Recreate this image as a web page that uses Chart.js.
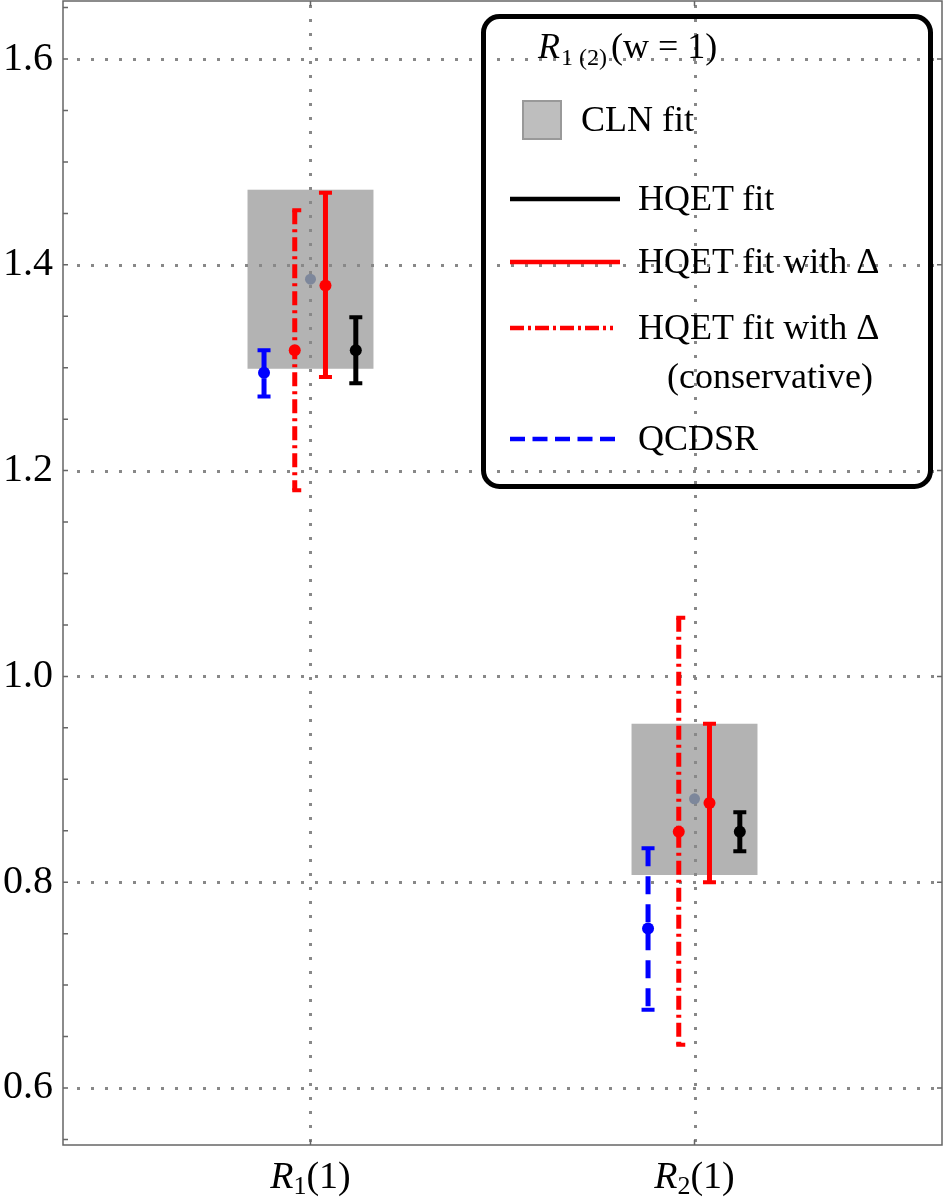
<!DOCTYPE html>
<html>
<head>
<meta charset="utf-8">
<script src="https://cdn.jsdelivr.net/npm/chart.js@4.4.0/dist/chart.umd.min.js"></script>
<style>
html, body { margin: 0; padding: 0; background: #fff; }
#wrap { position: relative; width: 944px; height: 1200px; }
#legend { position: absolute; left: 0; top: 0; pointer-events: none; }
</style>
</head>
<body>
<div id="wrap">
  <canvas id="ratios"></canvas>
  <svg id="legend" width="944" height="1200" xmlns="http://www.w3.org/2000/svg" font-family="'Liberation Serif', serif" font-size="36">
    <rect x="483.5" y="16.5" width="447" height="470" rx="16" ry="16" fill="none" stroke="#000" stroke-width="5"/>
    <text x="538" y="58"><tspan font-style="italic">R</tspan><tspan font-size="24" dy="7" dx="1">1 (2)</tspan><tspan dy="-7" dx="4">(w = 1)</tspan></text>
    <rect x="523" y="101" width="38" height="38" fill="#bebebe" stroke="#999" stroke-width="2"/>
    <text x="581" y="131">CLN fit</text>
    <line x1="510" y1="199" x2="620" y2="199" stroke="#000" stroke-width="4.5"/>
    <text x="638" y="210">HQET fit</text>
    <line x1="510" y1="262" x2="620" y2="262" stroke="#f00" stroke-width="4.5"/>
    <text x="638" y="273">HQET fit with Δ</text>
    <line x1="510" y1="328" x2="613" y2="328" stroke="#f00" stroke-width="4.5" stroke-dasharray="14 4 3 4"/>
    <text x="638" y="339">HQET fit with Δ</text>
    <text x="667" y="388">(conservative)</text>
    <line x1="510" y1="439" x2="615" y2="439" stroke="#00f" stroke-width="4.5" stroke-dasharray="15 7.5"/>
    <text x="638" y="450">QCDSR</text>
  </svg>
</div>
<script>
var categories = ['R1(1)', 'R2(1)'];
var yMajor = [0.6, 0.8, 1.0, 1.2, 1.4, 1.6];

// CLN fit: grey band and its centre
var clnCenter = [1.386, 0.881];
var clnLow    = [1.299, 0.807];
var clnHigh   = [1.473, 0.954];
// HQET fit
var hqetCenter = [1.317, 0.849];
var hqetLow    = [1.285, 0.830];
var hqetHigh   = [1.349, 0.868];
// HQET fit with Delta
var deltaCenter = [1.380, 0.877];
var deltaLow    = [1.291, 0.800];
var deltaHigh   = [1.470, 0.954];
// HQET fit with Delta (conservative)
var consCenter = [1.317, 0.849];
var consLow    = [1.181, 0.642];
var consHigh   = [1.453, 1.057];
// QCDSR
var qcdCenter = [1.295, 0.755];
var qcdLow    = [1.272, 0.676];
var qcdHigh   = [1.317, 0.833];

var boxHalf = 0.164;

var series = [
  { center: qcdCenter,   low: qcdLow,   high: qcdHigh,   off: -0.121, color: '#0000ff', dash: [18, 10],      capL: 6.5, capR: 6.5 },
  { center: consCenter,  low: consLow,  high: consHigh,  off: -0.041, color: '#ff0000', dash: [14, 5, 3, 5], capL: 2.5, capR: 6.5 },
  { center: deltaCenter, low: deltaLow, high: deltaHigh, off: 0.039,  color: '#ff0000', dash: [],            capL: 6.5, capR: 6.5 },
  { center: hqetCenter,  low: hqetLow,  high: hqetHigh,  off: 0.118,  color: '#000000', dash: [],            capL: 6.5, capR: 6.5 }
];

function isMajor(v) { return Math.abs(v * 5 - Math.round(v * 5)) < 1e-6; }
function pts(center, off) {
  return center.map(function (v, i) { return { x: i + 1 + off, y: v }; });
}

var errorBars = {
  id: 'errorBars',
  beforeDatasetsDraw: function (chart) {
    var ctx = chart.ctx, xs = chart.scales.x, ys = chart.scales.y, a = chart.chartArea;
    ctx.save();
    // grey CLN boxes
    ctx.fillStyle = '#b3b3b3';
    categories.forEach(function (c, i) {
      var l = xs.getPixelForValue(i + 1 - boxHalf), r = xs.getPixelForValue(i + 1 + boxHalf);
      var t = ys.getPixelForValue(clnHigh[i]), b = ys.getPixelForValue(clnLow[i]);
      ctx.fillRect(l, t, r - l, b - t);
    });
    // dotted grid
    ctx.strokeStyle = '#888';
    ctx.lineWidth = 3;
    ctx.setLineDash([3, 11]);
    yMajor.forEach(function (v) {
      var y = Math.round(ys.getPixelForValue(v)) + 0.5;
      ctx.beginPath(); ctx.moveTo(a.left + 14, y); ctx.lineTo(a.right, y); ctx.stroke();
    });
    categories.forEach(function (c, i) {
      var x = Math.round(xs.getPixelForValue(i + 1)) + 0.5;
      ctx.beginPath(); ctx.moveTo(x, a.top + 4); ctx.lineTo(x, a.bottom); ctx.stroke();
    });
    // error bars
    series.forEach(function (s) {
      ctx.strokeStyle = s.color;
      s.center.forEach(function (v, i) {
        var x = xs.getPixelForValue(i + 1 + s.off);
        var t = ys.getPixelForValue(s.high[i]), b = ys.getPixelForValue(s.low[i]);
        ctx.lineWidth = 5;
        ctx.setLineDash(s.dash);
        ctx.beginPath(); ctx.moveTo(x, t); ctx.lineTo(x, b); ctx.stroke();
        ctx.setLineDash([]);
        ctx.lineWidth = 4;
        ctx.beginPath();
        ctx.moveTo(x - s.capL, t); ctx.lineTo(x + s.capR, t);
        ctx.moveTo(x - s.capL, b); ctx.lineTo(x + s.capR, b);
        ctx.stroke();
      });
    });
    ctx.restore();
  },
  afterDraw: function (chart) {
    var ctx = chart.ctx, xs = chart.scales.x, ys = chart.scales.y, a = chart.chartArea;
    ctx.save();
    ctx.strokeStyle = '#666';
    ctx.lineWidth = 1.5;
    ctx.strokeRect(a.left, a.top, a.right - a.left, a.bottom - a.top);
    ctx.beginPath();
    ys.ticks.forEach(function (t) {
      var y = ys.getPixelForValue(t.value);
      ctx.moveTo(a.left, y); ctx.lineTo(a.left + 5, y);
      if (isMajor(t.value)) { ctx.moveTo(a.right, y); ctx.lineTo(a.right - 5, y); }
    });
    categories.forEach(function (c, i) {
      var x = xs.getPixelForValue(i + 1);
      ctx.moveTo(x, a.bottom); ctx.lineTo(x, a.bottom - 5);
      ctx.moveTo(x, a.top); ctx.lineTo(x, a.top + 5);
    });
    ctx.stroke();

    // category labels R_n(1)
    ctx.fillStyle = '#000';
    ctx.textBaseline = 'alphabetic';
    ctx.textAlign = 'left';
    var fMain = 'italic 38px "Liberation Serif"', fSub = '26px "Liberation Serif"', fArg = '38px "Liberation Serif"';
    categories.forEach(function (c, i) {
      var m = c.match(/^([A-Za-z]+)(\d+)(.*)$/);
      ctx.font = fMain; var w1 = ctx.measureText(m[1]).width;
      ctx.font = fSub;  var w2 = ctx.measureText(m[2]).width;
      ctx.font = fArg;  var w3 = ctx.measureText(m[3]).width;
      var x = xs.getPixelForValue(i + 1) - (w1 + w2 + w3) / 2;
      var base = a.bottom + 43;
      ctx.font = fMain; ctx.fillText(m[1], x, base);
      ctx.font = fSub;  ctx.fillText(m[2], x + w1, base + 6);
      ctx.font = fArg;  ctx.fillText(m[3], x + w1 + w2, base);
    });
    ctx.restore();
  }
};

var ctx = document.getElementById('ratios').getContext('2d');
var ratioChart = new Chart(ctx, {
  type: 'scatter',
  data: {
    datasets: [
      { label: 'HQET fit', data: pts(hqetCenter, 0.118), backgroundColor: '#000000' },
      { label: 'HQET fit with Δ', data: pts(deltaCenter, 0.039), backgroundColor: '#ff0000' },
      { label: 'HQET fit with Δ (conservative)', data: pts(consCenter, -0.041), backgroundColor: '#ff0000' },
      { label: 'QCDSR', data: pts(qcdCenter, -0.121), backgroundColor: '#0000ff' },
      { label: 'CLN fit', data: pts(clnCenter, 0), backgroundColor: '#7d879b', pointRadius: 5.5 }
    ]
  },
  options: {
    responsive: true,
    maintainAspectRatio: false,
    animation: false,
    elements: { point: { radius: 6, borderWidth: 0, hoverRadius: 6 } },
    layout: { autoPadding: false, padding: { top: 1, right: 2, left: 0, bottom: 0 } },
    plugins: { legend: { display: false }, tooltip: { enabled: false } },
    scales: {
      x: {
        type: 'linear', min: 0.3555, max: 2.6445,
        grid: { display: false, drawTicks: false },
        border: { display: false },
        ticks: { display: false },
        afterFit: function (s) { s.height = 55; s.paddingLeft = 0; s.paddingRight = 0; }
      },
      y: {
        min: 0.5446, max: 1.6564,
        grid: { display: false, drawTicks: false },
        border: { display: false },
        afterBuildTicks: function (s) {
          var t = [];
          for (var k = 11; k <= 33; k++) t.push({ value: k / 20 });
          s.ticks = t;
        },
        ticks: {
          autoSkip: false,
          padding: 10,
          color: '#000',
          font: { family: "'Liberation Serif', serif", size: 40 },
          callback: function (v) { return isMajor(v) ? v.toFixed(1) : ''; }
        },
        afterFit: function (s) { s.width = 63; s.paddingTop = 0; s.paddingBottom = 0; }
      }
    }
  },
  plugins: [errorBars]
});
</script>
</body>
</html>
